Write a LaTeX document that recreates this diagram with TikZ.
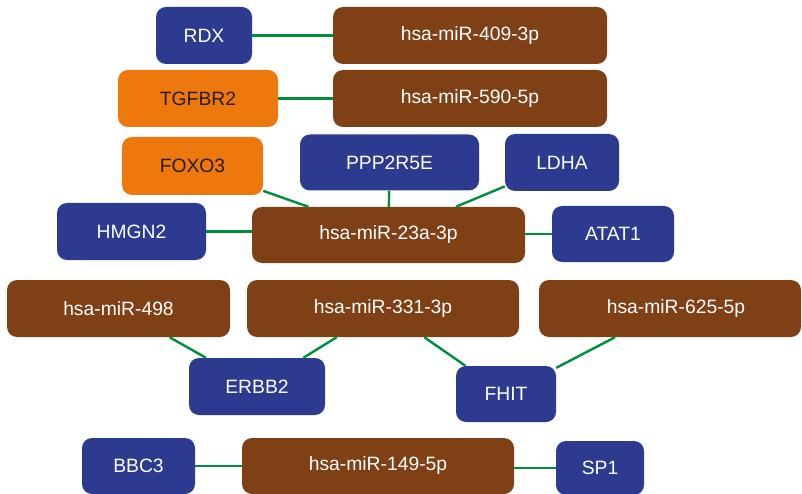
\documentclass[tikz,border=0pt]{standalone}
\usepackage{fontspec}
\setmainfont{Liberation Sans}
\definecolor{gblue}{RGB}{44,58,143}
\definecolor{mbrown}{RGB}{128,64,22}
\definecolor{gorange}{RGB}{237,120,14}
\definecolor{egreen}{RGB}{0,142,60}
\definecolor{dtext}{RGB}{40,28,18}
\begin{document}
\begin{tikzpicture}[x=1pt,y=-1pt,
  box/.style={rounded corners=10pt, inner sep=0pt, minimum height=57pt,
    font=\fontsize{19.3}{22}\selectfont, text=white},
  gene/.style={box, fill=gblue},
  mirna/.style={box, fill=mbrown},
  ogene/.style={box, fill=gorange, text=dtext},
  link/.style={draw=egreen, line width=2.4pt}]
\useasboundingbox (0,0) rectangle (802,494);
% row 1
\node[gene, minimum width=96pt] (rdx) at (204,35.5) {RDX};
\node[mirna, minimum width=274pt] (m409) at (470,35.5) {hsa-miR-409-3p};
% row 2
\node[ogene, minimum width=160pt] (tgfbr2) at (198,98.5) {TGFBR2};
\node[mirna, minimum width=274pt] (m590) at (470,98.5) {hsa-miR-590-5p};
% cluster 23a
\node[ogene, minimum width=141pt, minimum height=58pt] (foxo3) at (192.5,166) {FOXO3};
\node[gene, minimum width=179pt, minimum height=56pt] (ppp) at (389.5,162.5) {PPP2R5E};
\node[gene, minimum width=114pt] (ldha) at (562,162.5) {LDHA};
\node[gene, minimum width=149pt] (hmgn2) at (131.5,231.5) {HMGN2};
\node[mirna, minimum width=273pt, minimum height=56pt] (m23a) at (388.5,235) {hsa-miR-23a-3p};
\node[gene, minimum width=122pt, minimum height=56pt] (atat1) at (613,234) {ATAT1};
% row 4
\node[mirna, minimum width=223pt] (m498) at (118.5,308.5) {hsa-miR-498};
\node[mirna, minimum width=272pt] (m331) at (383,308.5) {hsa-miR-331-3p};
\node[mirna, minimum width=262pt] (m625) at (670,308.5) {\hspace*{12pt}hsa-miR-625-5p};
\node[gene, minimum width=136pt] (erbb2) at (257,386.5) {ERBB2};
\node[gene, minimum width=100pt, minimum height=56pt] (fhit) at (506,394) {FHIT};
% bottom row
\node[gene, minimum width=113pt, minimum height=56pt] (bbc3) at (138.5,466) {BBC3};
\node[mirna, minimum width=272pt, minimum height=56pt] (m149) at (378,466) {hsa-miR-149-5p};
\node[gene, minimum width=88pt, minimum height=54pt] (sp1) at (600,468) {SP1};
% links
\draw[link] (rdx) -- (m409);
\draw[link] (tgfbr2) -- (m590);
\draw[link] (foxo3) -- (m23a);
\draw[link] (ppp) -- (m23a);
\draw[link] (ldha) -- (m23a);
\draw[link] (hmgn2.east) -- (hmgn2.east -| m23a.west);
\draw[link] (atat1.west) -- (atat1.west -| m23a.east);
\draw[link] (m498) -- (erbb2);
\draw[link] (m331) -- (erbb2);
\draw[link] (m331) -- (fhit);
\draw[link] (m625) -- (fhit);
\draw[link] (bbc3) -- (m149);
\draw[link] (sp1.west) -- (sp1.west -| m149.east);
\end{tikzpicture}
\end{document}
